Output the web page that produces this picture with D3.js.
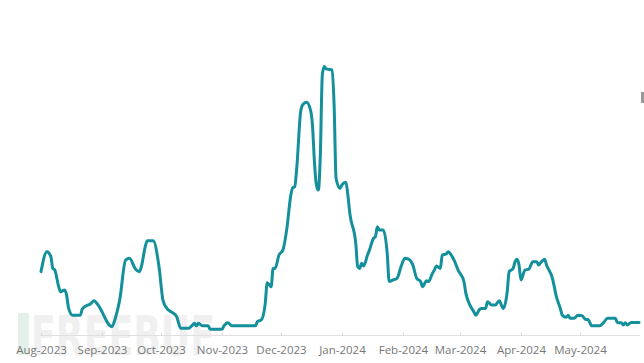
<!DOCTYPE html>
<html><head><meta charset="utf-8">
<script src="https://cdn.jsdelivr.net/npm/d3@7"></script>
<style>html,body{margin:0;padding:0;background:#fff;}svg{display:block;}</style>
</head><body>
<script>
const startDate = "2023-08-01";
const endDate = "2024-05-31";
const tickLabels = ["2023-08-01","2023-09-01","2023-10-01","2023-11-01","2023-12-01","2024-01-01","2024-02-01","2024-03-01","2024-04-01","2024-05-01"];
const dayOffsets = [0,3,5,6,7,9,10,12,13,14,16,20,21,24,25,27,29,36,38,40,43,45,48,50,51,53,54,57,60,62,64,66,67,69,71,75,77,78,79,80,82,85,86,92,93,95,97,109,110,112,114,115,117,118,119,121,123,125,127,128,129,130,132,133,135,137,138,139,140,141,142,143,144,145,148,149,150,152,153,155,156,157,160,161,162,163,164,166,167,169,170,171,172,174,176,177,179,181,183,185,187,189,191,193,194,196,197,199,200,201,203,204,206,207,209,210,212,215,216,218,220,221,223,224,226,227,229,231,233,234,235,237,238,240,241,242,243,244,245,246,248,250,252,253,254,256,257,260,262,264,265,267,268,269,271,273,275,277,278,280,284,286,288,292,293,295,296,297,298,300,304];
const values = [23.6,31.0,29.2,24.8,24.2,18.0,16.1,16.8,14.9,10.1,7.4,7.4,9.7,11.2,11.5,12.8,11.2,3.1,6.8,13.0,27.9,28.6,24.6,23.6,25.4,32.9,35.1,35.1,25.4,13.0,9.9,8.7,8.3,6.8,2.5,2.5,3.7,4.4,3.4,4.4,3.4,3.4,2.1,2.1,3.4,4.6,3.4,3.4,5.0,5.6,11.8,19.5,18.0,24.8,24.8,29.8,31.7,39.7,52.1,54.9,55.2,62.1,83.2,85.7,86.7,83.8,78.2,64.5,55.9,54.0,67.0,96.8,100,99.1,98.7,85.7,58.4,54.6,55.9,56.9,52.1,45.3,34.2,25.4,24.8,26.7,25.7,29.8,31.7,36.0,36.6,40.3,39.1,39.1,30.4,19.9,20.5,21.1,25.4,28.6,28.2,26.1,21.1,19.9,18.0,20.2,19.9,23.0,24.2,25.7,24.8,29.8,30.2,31.0,29.2,27.9,24.2,19.9,15.5,11.2,8.7,7.4,9.6,9.9,9.9,12.4,11.2,11.2,12.8,11.2,9.9,16.1,23.6,24.8,27.3,28.2,26.1,20.5,22.3,24.2,24.5,27.3,27.3,26.1,26.9,28.2,26.1,21.1,14.3,9.9,7.4,6.6,7.4,6.2,6.2,7.4,7.2,5.8,5.8,3.4,3.4,4.6,6.2,6.2,4.6,4.6,3.7,4.6,3.7,4.7,4.7];

const W = 644, H = 363;
const parse = d3.timeParse("%Y-%m-%d");
const t0 = parse(startDate);
const data = dayOffsets.map((d, i) => ({date: d3.timeDay.offset(t0, d), value: values[i]}));

const svg = d3.select("body").append("svg").attr("width", W).attr("height", H);

// faint watermark
const wm = svg.append("g");
wm.append("rect").attr("x", 18).attr("y", 313).attr("width", 11).attr("height", 42).attr("fill", "#e4f1ea");
wm.append("text").attr("x", 31).attr("y", 355).attr("font-family", "DejaVu Sans").attr("font-weight", "bold")
  .attr("font-size", 56).attr("fill", "#f0f0f0").attr("textLength", 184).attr("lengthAdjust", "spacingAndGlyphs").text("FREEBUF");

const x = d3.scaleTime().domain([t0, parse(endDate)]).range([41, 639]);
const y = d3.scaleLinear().domain([0, 100]).range([335, 66.5]);

const axis = d3.axisBottom(x)
  .tickValues(tickLabels.map(parse))
  .tickFormat(d3.timeFormat("%b-%Y"))
  .tickSizeInner(-3).tickSizeOuter(0).tickPadding(10);
const gx = svg.append("g").attr("transform", "translate(0,335.5)").call(axis);
gx.select(".domain").attr("stroke", "#e0e0e0").attr("d", "M40,0H640");
gx.selectAll(".tick line").attr("stroke", "#d8d8d8");
gx.selectAll(".tick text").attr("fill", "#777").attr("font-size", 11.5).attr("font-family", "Open Sans");

const line = d3.line().x(d => x(d.date)).y(d => y(d.value)).curve(d3.curveMonotoneX);
svg.append("path").datum(data).attr("d", line).attr("fill", "none")
  .attr("stroke", "#13909b").attr("stroke-width", 3).attr("stroke-linejoin", "round").attr("stroke-linecap", "round");

svg.append("rect").attr("x", 641).attr("y", 92).attr("width", 3).attr("height", 11).attr("fill", "#999");
</script>
</body></html>
